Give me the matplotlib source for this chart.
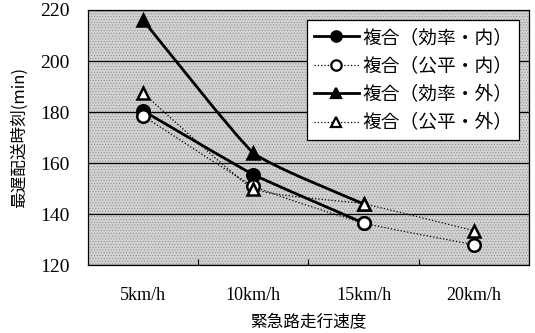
import numpy as np
import matplotlib
matplotlib.use("Agg")
import matplotlib.pyplot as plt
from matplotlib.path import Path
from matplotlib.patches import PathPatch
from matplotlib.lines import Line2D

plt.rcParams["font.family"] = ["Noto Sans CJK JP", "DejaVu Sans"]
plt.rcParams["hatch.linewidth"] = 0.4

# speeds on the emergency road
speeds = ["5km/h", "10km/h", "15km/h", "20km/h"]

# latest delivery time (min)
eff_in = [180.5, 155.5, 136.5]
fair_in = [178.5, 151, 136.5, 128]
eff_out = [216, 164, 144]
fair_out = [187.5, 150, 144, 133.5]

names = ["複合（効率・内）", "複合（公平・内）", "複合（効率・外）", "複合（公平・外）"]


def smooth_path(xs, ys, tension=0.07):
    # cubic bezier through the points (catmull-rom style)
    xs = np.asarray(xs, float)
    ys = np.asarray(ys, float)
    verts = [(xs[0], ys[0])]
    codes = [Path.MOVETO]
    n = len(xs)
    for i in range(n - 1):
        x0, y0 = (xs[i - 1], ys[i - 1]) if i > 0 else (xs[i], ys[i])
        x3, y3 = (xs[i + 2], ys[i + 2]) if i + 2 < n else (xs[i + 1], ys[i + 1])
        c1 = (xs[i] + (xs[i + 1] - x0) * tension, ys[i] + (ys[i + 1] - y0) * tension)
        c2 = (xs[i + 1] - (x3 - xs[i]) * tension, ys[i + 1] - (y3 - ys[i]) * tension)
        verts += [c1, c2, (xs[i + 1], ys[i + 1])]
        codes += [Path.CURVE4] * 3
    return Path(verts, codes)


fig = plt.figure(figsize=(5.35, 3.33), dpi=100)
ax = fig.add_axes([0.1645, 0.204, 0.824, 0.766])
ax.set_facecolor("#d2d2d2")
ax.patch.set_hatch("......")
ax.patch.set_edgecolor("#8a8a8a")

series = [
    (eff_in, "o", "black", "-", 2.0),
    (fair_in, "o", "white", ":", 0.9),
    (eff_out, "^", "black", "-", 2.0),
    (fair_out, "^", "white", ":", 0.9),
]

handles = []
for (vals, mk, fc, ls, lw), name in zip(series, names):
    xs = np.arange(len(vals))
    patch = PathPatch(smooth_path(xs, vals), facecolor="none", edgecolor="black",
                      lw=lw, ls=ls, zorder=3)
    ax.add_patch(patch)
    ax.plot(xs, vals, ls="none", marker=mk, ms=9, mfc=fc, mec="black", mew=1.8, zorder=4)
    handles.append(Line2D([], [], color="black", lw=lw, ls=ls, marker=mk, ms=7.5,
                          mfc=fc, mec="black", mew=1.6))

ax.set_xlim(-0.5, 3.5)
ax.set_ylim(120, 220)
ax.set_yticks(range(120, 221, 20))
ax.yaxis.grid(True, color="black", lw=0.9)
ax.set_axisbelow(True)
ax.tick_params(axis="y", length=0, pad=13)
for lab in ax.get_yticklabels():
    lab.set_family("Liberation Serif")
    lab.set_fontsize(14)

ax.set_xticks([0.5, 1.5, 2.5])
ax.set_xticklabels([])
ax.set_xticks(range(len(speeds)), minor=True)
ax.set_xticklabels(speeds, minor=True, family="Liberation Serif", fontsize=13)
ax.tick_params(axis="x", which="major", direction="in", length=4)
ax.tick_params(axis="x", which="minor", length=0, pad=16)

for sp in ax.spines.values():
    sp.set_color("black")
    sp.set_linewidth(0.9)

ax.set_xlabel("緊急路走行速度", fontsize=12, labelpad=7)
ax.set_ylabel("最遅配送時刻(min)", fontsize=12, labelpad=9)

leg = ax.legend(handles, names, loc="upper right", bbox_to_anchor=(0.978, 0.96),
                borderaxespad=0, fontsize=13.5, handlelength=2.4, handletextpad=0.2,
                labelspacing=0.4, borderpad=0.35, frameon=True, fancybox=False,
                framealpha=1)
leg.get_frame().set_edgecolor("black")
leg.get_frame().set_linewidth(0.9)

fig.savefig("out.png", dpi=100)
